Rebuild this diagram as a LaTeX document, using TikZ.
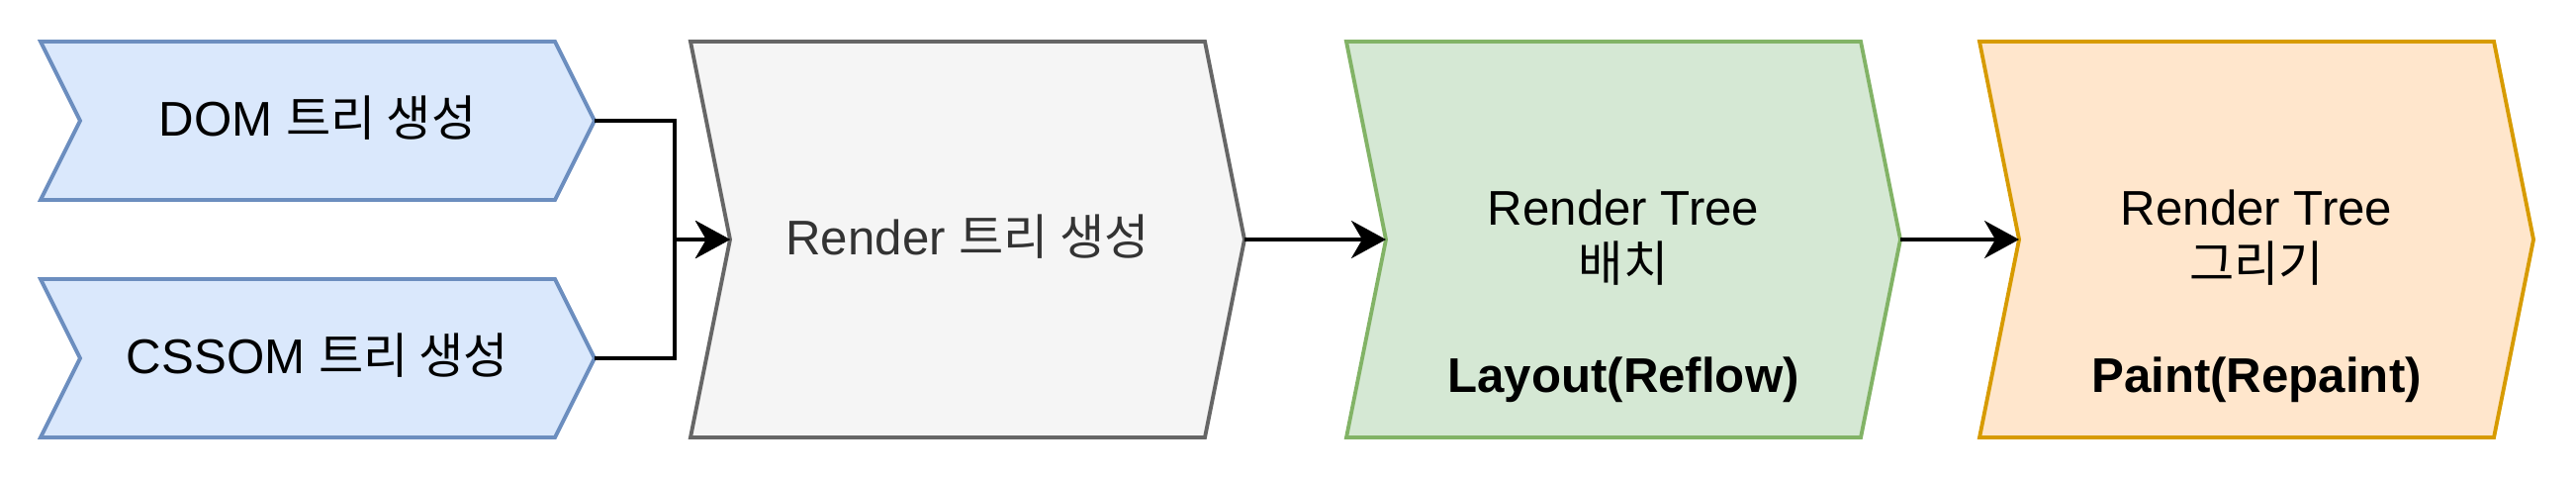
\documentclass[tikz,border=0pt]{standalone}
\usepackage{fontspec}
\setmainfont{Liberation Sans}
\newfontfamily\krfont{Noto Sans CJK KR}
\newcommand{\kor}[1]{{\krfont #1}}
\usetikzlibrary{arrows.meta,positioning,calc}
\definecolor{domfill}{HTML}{DAE8FC}
\definecolor{domline}{HTML}{6C8EBF}
\definecolor{rendfill}{HTML}{F5F5F5}
\definecolor{rendline}{HTML}{666666}
\definecolor{rendtext}{HTML}{333333}
\definecolor{layfill}{HTML}{D5E8D4}
\definecolor{layline}{HTML}{82B366}
\definecolor{paintfill}{HTML}{FFE6CC}
\definecolor{paintline}{HTML}{D79B00}

\begin{document}
\begin{tikzpicture}[
  chev/.style={line width=1.1pt, line join=miter},
  lbl/.style={font=\fontsize{14}{16}\selectfont, align=center, inner sep=0pt},
  flow/.style={line width=1.1pt, -{Stealth[length=3.5mm, width=3.8mm, inset=1.1mm]}}
]
  \useasboundingbox (0,0) rectangle (26.04,4.84);
  % input steps
  \draw[chev, fill=domfill, draw=domline] (0.41,4.42) -- (5.61,4.42) -- (6.01,3.62) -- (5.61,2.82) -- (0.41,2.82) -- (0.81,3.62) -- cycle;
  \draw[chev, fill=domfill, draw=domline] (0.41,2.02) -- (5.61,2.02) -- (6.01,1.22) -- (5.61,0.42) -- (0.41,0.42) -- (0.81,1.22) -- cycle;
  \node[lbl, anchor=base] (dom) at (3.21,3.47) {DOM \kor{트리 생성}};
  \node[lbl, anchor=base] (cssom) at (3.21,1.07) {CSSOM \kor{트리 생성}};
  \coordinate (domtip) at (6.01,3.62);
  \coordinate (cssomtip) at (6.01,1.22);
  % render tree
  \draw[chev, fill=rendfill, draw=rendline] (6.98,4.42) -- (12.18,4.42) -- (12.58,2.42) -- (12.18,0.42) -- (6.98,0.42) -- (7.38,2.42) -- cycle;
  \node[lbl, anchor=base, text=rendtext] (render) at (9.78,2.27) {Render \kor{트리 생성}};
  \coordinate (rendnotch) at (7.38,2.42);
  \coordinate (rendtip) at (12.58,2.42);
  % layout
  \draw[chev, fill=layfill, draw=layline] (13.61,4.42) -- (18.81,4.42) -- (19.21,2.42) -- (18.81,0.42) -- (13.61,0.42) -- (14.01,2.42) -- cycle;
  \node[lbl] (layout) at (16.41,1.845) {Render Tree\\ \kor{배치}\\[16pt] \textbf{Layout(Reflow)}};
  \coordinate (laynotch) at (14.01,2.42);
  \coordinate (laytip) at (19.21,2.42);
  % paint
  \draw[chev, fill=paintfill, draw=paintline] (20.01,4.42) -- (25.21,4.42) -- (25.61,2.42) -- (25.21,0.42) -- (20.01,0.42) -- (20.41,2.42) -- cycle;
  \node[lbl] (paint) at (22.81,1.845) {Render Tree\\ \kor{그리기}\\[16pt] \textbf{Paint(Repaint)}};
  \coordinate (paintnotch) at (20.41,2.42);
  % connectors
  \coordinate (join) at (6.82,2.42);
  \draw[flow] (domtip) -| (join) -- (rendnotch);
  \draw[flow] (cssomtip) -| (join) -- (rendnotch);
  \draw[flow] (rendtip) -- (laynotch);
  \draw[flow] (laytip) -- (paintnotch);
\end{tikzpicture}
\end{document}
